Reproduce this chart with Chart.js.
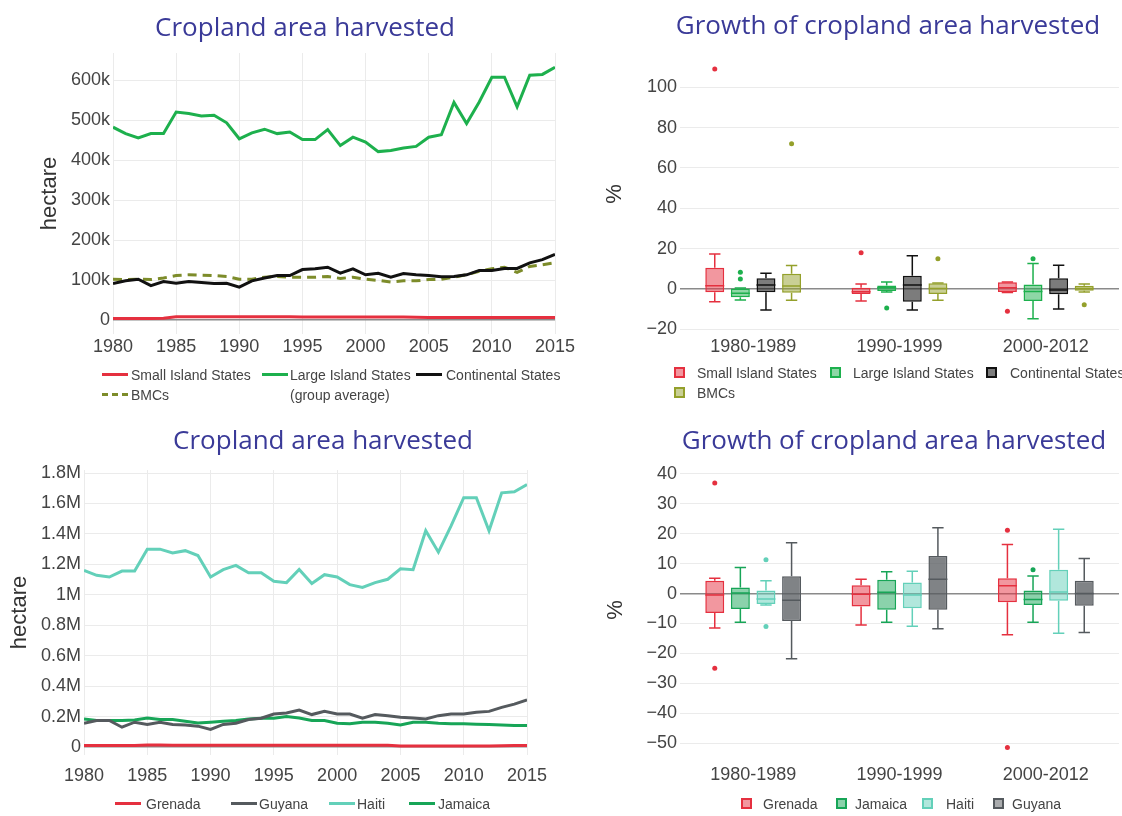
<!DOCTYPE html>
<html>
<head>
<meta charset="utf-8">
<script src="https://cdn.jsdelivr.net/npm/chart.js@4.4.0/dist/chart.umd.min.js"></script>
<style>
  html, body { margin: 0; padding: 0; background: #fff; }
  body { width: 1122px; height: 816px; position: relative; overflow: hidden; font-family: "Liberation Sans", Arial, sans-serif; }
  canvas { position: absolute; }
  .ttl { position: absolute; width: 600px; text-align: center; font-family: "Open Sans", sans-serif; font-size: 26px; line-height: 30px; color: #3a3a98; }
  .lt { position: absolute; font-size: 14px; line-height: 16px; color: #444; white-space: nowrap; }
  .ln { position: absolute; width: 26px; height: 0; border-top: 3px solid; }
  .sq { position: absolute; width: 7px; height: 7px; border: 2px solid; }
</style>
</head>
<body>
<canvas id="cA" width="580" height="410" style="left:0;top:0"></canvas>
<canvas id="cB" width="542" height="410" style="left:580px;top:0"></canvas>
<canvas id="cC" width="580" height="406" style="left:0;top:410px"></canvas>
<canvas id="cD" width="542" height="406" style="left:580px;top:410px"></canvas>

<div class="ttl" style="left:5px;top:11px">Cropland area harvested</div>
<div class="ttl" style="left:588px;top:9px">Growth of cropland area harvested</div>
<div class="ttl" style="left:23px;top:424px">Cropland area harvested</div>
<div class="ttl" style="left:594px;top:424px">Growth of cropland area harvested</div>

<!-- legend top-left -->
<div class="ln" style="left:102px;top:373px;border-color:#e5303f"></div>
<div class="lt" style="left:131px;top:367px">Small Island States</div>
<div class="ln" style="left:262px;top:373px;border-color:#1db04d"></div>
<div class="lt" style="left:290px;top:367px">Large Island States</div>
<div class="lt" style="left:290px;top:387px">(group average)</div>
<div class="ln" style="left:416px;top:373px;border-color:#111"></div>
<div class="lt" style="left:446px;top:367px">Continental States</div>
<div class="ln" style="left:102px;top:393px;border-top-style:dashed;border-color:#7d8c2a"></div>
<div class="lt" style="left:131px;top:387px">BMCs</div>

<!-- legend top-right -->
<div class="sq" style="left:674px;top:367px;border-color:#e5303f;background:rgba(229,48,63,0.5)"></div>
<div class="lt" style="left:697px;top:365px">Small Island States</div>
<div class="sq" style="left:830px;top:367px;border-color:#1db04d;background:rgba(29,176,77,0.5)"></div>
<div class="lt" style="left:853px;top:365px">Large Island States</div>
<div class="sq" style="left:986px;top:367px;border-color:#111;background:rgba(17,17,17,0.55)"></div>
<div class="lt" style="left:1010px;top:365px">Continental States</div>
<div class="sq" style="left:674px;top:387px;border-color:#94a02b;background:rgba(148,160,43,0.5)"></div>
<div class="lt" style="left:697px;top:385px">BMCs</div>

<!-- legend bottom-left -->
<div class="ln" style="left:115px;top:802px;border-color:#e5303f"></div>
<div class="lt" style="left:146px;top:796px">Grenada</div>
<div class="ln" style="left:231px;top:802px;border-color:#555a5e"></div>
<div class="lt" style="left:259px;top:796px">Guyana</div>
<div class="ln" style="left:329px;top:802px;border-color:#63d0b9"></div>
<div class="lt" style="left:357px;top:796px">Haiti</div>
<div class="ln" style="left:409px;top:802px;border-color:#17a557"></div>
<div class="lt" style="left:438px;top:796px">Jamaica</div>

<!-- legend bottom-right -->
<div class="sq" style="left:741px;top:798px;border-color:#e5303f;background:rgba(229,48,63,0.5)"></div>
<div class="lt" style="left:763px;top:796px">Grenada</div>
<div class="sq" style="left:836px;top:798px;border-color:#17a557;background:rgba(23,165,87,0.5)"></div>
<div class="lt" style="left:855px;top:796px">Jamaica</div>
<div class="sq" style="left:922px;top:798px;border-color:#63d0b9;background:rgba(99,208,185,0.5)"></div>
<div class="lt" style="left:946px;top:796px">Haiti</div>
<div class="sq" style="left:993px;top:798px;border-color:#555a5e;background:rgba(85,90,94,0.5)"></div>
<div class="lt" style="left:1012px;top:796px">Guyana</div>

<script>
// ---------- data ----------
const years = [1980, 1981, 1982, 1983, 1984, 1985, 1986, 1987, 1988, 1989,
               1990, 1991, 1992, 1993, 1994, 1995, 1996, 1997, 1998, 1999,
               2000, 2001, 2002, 2003, 2004, 2005, 2006, 2007, 2008, 2009,
               2010, 2011, 2012, 2013, 2014, 2015];

// group averages, hectare
const smallIsland = [4000, 4000, 4000, 4000, 4500, 8000, 8000, 8000, 8000, 8000,
                     8000, 8000, 8000, 8000, 8000, 7500, 7500, 7500, 7500, 7500,
                     7500, 7500, 7500, 7500, 7000, 6500, 6500, 6500, 6500, 6500,
                     6500, 6500, 6500, 6500, 6500, 6500];
const largeIsland = [482000, 466000, 455000, 466000, 466000, 520000, 516000, 510000, 512000, 493000,
                     453000, 468000, 477000, 466000, 470000, 451000, 451000, 476000, 436000, 457000,
                     445000, 421000, 424000, 430000, 434000, 457000, 463000, 544000, 491000, 545000,
                     607000, 607000, 533000, 612000, 614000, 632000];
const continental = [91000, 98000, 102000, 86000, 96000, 92000, 96000, 94000, 91000, 92000,
                     82000, 98000, 105000, 111000, 111000, 126000, 128000, 132000, 117000, 128000,
                     113000, 117000, 107000, 116000, 113000, 111000, 108000, 109000, 113000, 124000,
                     124000, 129000, 129000, 143000, 151000, 164000];
const bmcs = [102000, 101000, 102000, 101000, 105000, 111000, 113000, 112000, 111000, 109000,
              102000, 102000, 107000, 109000, 107000, 107000, 107000, 109000, 104000, 107000,
              102000, 99000, 95000, 98000, 98000, 101000, 102000, 107000, 113000, 122000,
              128000, 132000, 119000, 134000, 138000, 143000];

// countries, hectare
const grenada = [9000, 9000, 9000, 9000, 10000, 13000, 13000, 12000, 12000, 12000,
                 12000, 12000, 12000, 12000, 12000, 12000, 12000, 12000, 12000, 12000,
                 12000, 12000, 12000, 12000, 11000, 6000, 6000, 6000, 6000, 6000,
                 6000, 7000, 7000, 8000, 9000, 10000];
const guyana = [156000, 174000, 174000, 130000, 163000, 148000, 163000, 148000, 145000, 137000,
                115000, 148000, 156000, 180000, 189000, 217000, 223000, 243000, 213000, 234000,
                217000, 217000, 189000, 213000, 206000, 195000, 191000, 184000, 206000, 217000,
                217000, 228000, 234000, 260000, 282000, 310000];
const haiti = [1160000, 1128000, 1117000, 1156000, 1156000, 1300000, 1300000, 1275000, 1290000, 1258000,
               1117000, 1165000, 1193000, 1145000, 1145000, 1089000, 1080000, 1167000, 1074000, 1132000,
               1117000, 1067000, 1048000, 1080000, 1102000, 1171000, 1165000, 1421000, 1280000, 1453000,
               1638000, 1638000, 1421000, 1670000, 1677000, 1725000];
const jamaica = [184000, 174000, 174000, 174000, 178000, 191000, 180000, 180000, 169000, 158000,
                 163000, 169000, 174000, 184000, 189000, 189000, 200000, 191000, 174000, 174000,
                 156000, 152000, 163000, 163000, 156000, 145000, 163000, 163000, 156000, 152000,
                 152000, 150000, 148000, 145000, 141000, 141000];

// growth boxes, % : [lower whisker, q1, median, q3, upper whisker] per period
const periods = ["1980-1989", "1990-1999", "2000-2012"];
const smallIslandBox = [[-6.3, -1.6, 1.6, 10.6, 17.4], [-6, -2.5, -1.3, 0.6, 2.5], [-1.7, -1.5, 0.6, 3.3, 3.5]];
const smallIslandOut = [[109], [18], [-11]];
const largeIslandBox = [[-5.5, -4.1, -2.1, 0.2, 0.5], [-1.5, -1, 0.6, 1.8, 3.5], [-14.7, -6, -1.2, 2.3, 12.7]];
const largeIslandOut = [[8.3, 5], [-9.4], [15]];
const continentalBox = [[-10.4, -1.6, 2, 5.3, 7.8], [-10.4, -6.3, 2, 6.6, 16.5], [-9.9, -2.6, -0.5, 5.3, 11.8]];
const continentalOut = [[], [], []];
const bmcBox = [[-5.6, -1.8, 1.5, 7.6, 11.6], [-5.6, -2.5, 0.2, 2.8, 3], [-1.5, -0.8, 0.3, 1.6, 2.5]];
const bmcOut = [[72], [15], [-7.8]];

const grenadaBox = [[-11.5, -6.5, -0.5, 4.3, 5.1], [-10.5, -4.3, -0.2, 2.8, 4.8], [-13.8, -2.9, 2.6, 5.1, 16.4]];
const grenadaOut = [[37, -25], [], [21.2, -51.5]];
const jamaicaBox = [[-9.6, -5.2, 0.2, 2, 8.7], [-9.6, -5.4, 0.4, 4.6, 7.3], [-9.6, -3.8, -2, 1, 5.9]];
const jamaicaOut = [[], [], [8]];
const haitiBox = [[-3.8, -3.5, -1.8, 1, 4.3], [-10.9, -4.9, -0.5, 3.7, 7.5], [-13.3, -2.4, 0.5, 8, 21.5]];
const haitiOut = [[11.3, -11], [], []];
const guyanaBox = [[-21.8, -9.2, -2.2, 5.8, 17], [-11.8, -5.4, 4.8, 12.6, 22], [-13, -4.1, 0, 4.3, 11.7]];
const guyanaOut = [[], [], []];

// tick values
const ticksA = [0, 100000, 200000, 300000, 400000, 500000, 600000];
const ticksB = [-20, 0, 20, 40, 60, 80, 100];
const ticksC = [0, 200000, 400000, 600000, 800000, 1000000, 1200000, 1400000, 1600000, 1800000];
const ticksD = [-50, -40, -30, -20, -10, 0, 10, 20, 30, 40];

// ---------- helpers ----------
const tickFont = { family: "Liberation Sans", size: 18 };
const tickColor = "#444";
const gridColor = "#ebebeb";
const minus = v => (v < 0 ? "\u2212" + Math.abs(v) : String(v));
const fixedTicks = list => s => { s.ticks = list.map(v => ({ value: v })); };

function lineSeries(label, values, color) {
  return {
    label: label,
    data: years.map((yr, i) => ({ x: yr, y: values[i] })),
    borderColor: color, backgroundColor: color,
    borderWidth: 3, pointRadius: 0, tension: 0
  };
}

function boxSeries(label, stats, outliers, color, fill) {
  return {
    label: label,
    data: stats.map(s => [s[1], s[3]]),
    stats: stats, outliers: outliers,
    backgroundColor: fill, borderColor: color,
    borderWidth: 1.5, borderSkipped: false,
    categoryPercentage: 0.70, barPercentage: 0.74
  };
}

// whiskers, medians and outlier dots on top of the floating bars
const boxWhiskers = {
  id: "boxWhiskers",
  afterDatasetsDraw(chart) {
    const ctx = chart.ctx, ys = chart.scales.y;
    chart.data.datasets.forEach((ds, i) => {
      const meta = chart.getDatasetMeta(i);
      ctx.save();
      ctx.strokeStyle = ds.borderColor;
      ctx.fillStyle = ds.borderColor;
      ctx.lineWidth = 1.5;
      meta.data.forEach((bar, j) => {
        const [lo, q1, med, q3, hi] = ds.stats[j];
        const x = bar.x, half = bar.width / 2, cap = half * 0.6;
        const py = v => ys.getPixelForValue(v);
        ctx.beginPath();
        ctx.moveTo(x, py(q3)); ctx.lineTo(x, py(hi));
        ctx.moveTo(x - cap, py(hi)); ctx.lineTo(x + cap, py(hi));
        ctx.moveTo(x, py(q1)); ctx.lineTo(x, py(lo));
        ctx.moveTo(x - cap, py(lo)); ctx.lineTo(x + cap, py(lo));
        ctx.moveTo(x - half, py(med)); ctx.lineTo(x + half, py(med));
        ctx.stroke();
        ds.outliers[j].forEach(v => {
          ctx.beginPath();
          ctx.arc(x, py(v), 2.5, 0, Math.PI * 2);
          ctx.fill();
        });
      });
      ctx.restore();
    });
  }
};

const noPlugins = { legend: { display: false }, title: { display: false }, tooltip: { enabled: false } };

function yearAxis(pad) {
  return {
    type: "linear", min: 1980, max: 2015,
    ticks: { stepSize: 5, font: tickFont, color: tickColor, padding: pad, callback: v => String(v) },
    grid: { color: gridColor, drawTicks: false },
    border: { display: false },
    afterFit: s => { s.height = 45; }
  };
}

function periodAxis(pad) {
  return {
    ticks: { font: tickFont, color: tickColor, padding: pad },
    grid: { display: false, drawTicks: false },
    border: { display: false },
    afterFit: s => { s.height = 45; }
  };
}

function zeroGrid() {
  return {
    color: c => (c.tick.value === 0 ? "#8a8a8a" : gridColor),
    lineWidth: c => (c.tick.value === 0 ? 1.5 : 1),
    drawTicks: false
  };
}

function yTitle(text, top) {
  return { display: true, text: text, color: "#333", font: { family: "Liberation Sans", size: 22 }, padding: { top: top, bottom: 0 } };
}

// ---------- Gráfico A: group averages ----------
const dsBmc = lineSeries("BMCs", bmcs, "#7d8c2a");
dsBmc.borderDash = [9, 6];
new Chart(document.getElementById("cA"), {
  type: "line",
  data: {
    datasets: [
      lineSeries("Small Island States", smallIsland, "#e5303f"),
      lineSeries("Large Island States", largeIsland, "#1db04d"),
      lineSeries("Continental States", continental, "#111111"),
      dsBmc
    ]
  },
  options: {
    responsive: false, animation: false,
    layout: { padding: { left: 0, right: 25, top: 53, bottom: 31 } },
    plugins: noPlugins,
    scales: {
      x: yearAxis(2),
      y: {
        min: -35000, max: 667500,
        afterBuildTicks: fixedTicks(ticksA),
        ticks: {
          font: tickFont, color: tickColor, padding: 3,
          callback: v => (v === 0 ? "0" : Math.round(v / 1000) + "k")
        },
        grid: zeroGrid(),
        border: { display: false },
        title: yTitle("hectare", 37),
        afterFit: s => { s.width = 113; }
      }
    }
  }
});

// ---------- Gráfico B: growth by group ----------
new Chart(document.getElementById("cB"), {
  type: "bar",
  data: {
    labels: periods,
    datasets: [
      boxSeries("Small Island States", smallIslandBox, smallIslandOut, "#e5303f", "rgba(229,48,63,0.5)"),
      boxSeries("Large Island States", largeIslandBox, largeIslandOut, "#1db04d", "rgba(29,176,77,0.5)"),
      boxSeries("Continental States", continentalBox, continentalOut, "#111111", "rgba(17,17,17,0.55)"),
      boxSeries("BMCs", bmcBox, bmcOut, "#94a02b", "rgba(148,160,43,0.5)")
    ]
  },
  options: {
    responsive: false, animation: false,
    layout: { padding: { left: 0, right: 3, top: 55, bottom: 32 } },
    plugins: noPlugins,
    scales: {
      x: periodAxis(3),
      y: {
        min: -21.8, max: 116,
        afterBuildTicks: fixedTicks(ticksB),
        ticks: { font: tickFont, color: tickColor, padding: 3, callback: minus },
        grid: zeroGrid(), border: { display: false },
        title: yTitle("%", 22),
        afterFit: s => { s.width = 100; }
      }
    }
  },
  plugins: [boxWhiskers]
});

// ---------- Gráfico C: countries ----------
new Chart(document.getElementById("cC"), {
  type: "line",
  data: {
    datasets: [
      lineSeries("Grenada", grenada, "#e5303f"),
      lineSeries("Guyana", guyana, "#555a5e"),
      lineSeries("Haiti", haiti, "#63d0b9"),
      lineSeries("Jamaica", jamaica, "#17a557")
    ]
  },
  options: {
    responsive: false, animation: false,
    layout: { padding: { left: 0, right: 53, top: 60, bottom: 16 } },
    plugins: noPlugins,
    scales: {
      x: yearAxis(10),
      y: {
        min: -52600, max: 1820000,
        afterBuildTicks: fixedTicks(ticksC),
        ticks: {
          font: tickFont, color: tickColor, padding: 3,
          callback: v => (v === 0 ? "0" : Math.round(v / 100000) / 10 + "M")
        },
        grid: zeroGrid(), border: { display: false },
        title: yTitle("hectare", 7),
        afterFit: s => { s.width = 84; }
      }
    }
  }
});

// ---------- Gráfico D: growth by country ----------
new Chart(document.getElementById("cD"), {
  type: "bar",
  data: {
    labels: periods,
    datasets: [
      boxSeries("Grenada", grenadaBox, grenadaOut, "#e5303f", "rgba(229,48,63,0.5)"),
      boxSeries("Jamaica", jamaicaBox, jamaicaOut, "#17a557", "rgba(23,165,87,0.5)"),
      boxSeries("Haiti", haitiBox, haitiOut, "#63d0b9", "rgba(99,208,185,0.5)"),
      boxSeries("Guyana", guyanaBox, guyanaOut, "#555a5e", "rgba(85,90,94,0.75)")
    ]
  },
  options: {
    responsive: false, animation: false,
    layout: { padding: { left: 0, right: 3, top: 55, bottom: 16 } },
    plugins: noPlugins,
    scales: {
      x: periodAxis(9),
      y: {
        min: -54, max: 43,
        afterBuildTicks: fixedTicks(ticksD),
        ticks: { font: tickFont, color: tickColor, padding: 3, callback: minus },
        grid: zeroGrid(), border: { display: false },
        title: yTitle("%", 23),
        afterFit: s => { s.width = 100; }
      }
    }
  },
  plugins: [boxWhiskers]
});
</script>
</body>
</html>
